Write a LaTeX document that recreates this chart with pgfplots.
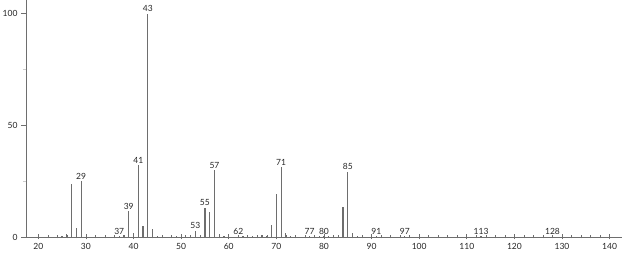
\documentclass[border=0pt]{standalone}
\usepackage{fontspec}
\setmainfont{Lato}
\usepackage{pgfplots}
\pgfplotsset{compat=1.18}
\definecolor{barc}{RGB}{110,110,110}
\definecolor{axc}{RGB}{110,110,110}
\begin{document}
\begin{tikzpicture}[font=\fontsize{8.5}{10}\selectfont]
\useasboundingbox (-26pt,-17pt) rectangle (597pt,237pt);
\begin{axis}[
  at={(0,0)}, anchor=south west,
  scale only axis, width=596pt, height=237pt,
  xmin=17.42, xmax=142.6, ymin=0, ymax=106.1,
  axis x line*=bottom, axis y line*=left,
  axis line style={draw=axc, line width=0.8pt, -},
  xtick={20,30,...,140}, minor x tick num=4,
  ytick={0,50,100}, minor ytick={25,75},
  xtick align=center, ytick align=outside,
  major tick length=5pt, minor tick length=3pt,
  tick style={draw=axc, line width=0.6pt},
  minor y tick style={draw=gray!40},
  /pgf/number format/assume math mode=true,
  ticklabel style={text=black!85},
  xticklabel style={yshift=-0.5pt},
  clip=false,
]
\addplot[ycomb, draw=barc, line width=1.2pt, mark=none] coordinates {
(25,0.4) (26,1.3) (27,23.9) (28,4.0) (29,25.1)
(37,0.4) (38,0.8) (39,11.6) (40,1.9) (41,32.2) (42,4.8) (43,100) (44,3.6) (45,0.5)
(49,0.5) (50,0.4) (51,0.9) (52,0.4) (53,2.8) (54,1.0) (55,13.1) (56,11.0) (57,30.0) (58,1.2) (59,0.3)
(62,0.3) (63,0.3) (65,0.3) (67,0.9) (68,0.4) (69,5.2) (70,19.4) (71,31.2) (72,1.8) (73,0.4)
(77,0.3) (79,0.3) (80,0.3) (81,0.3) (83,0.9) (84,13.4) (85,29.3) (86,1.8) (87,0.3)
(91,0.3) (97,0.3) (113,0.3) (128,0.3)
};
\addplot[draw=none, mark=none, point meta=explicit symbolic,
  nodes near coords,
  nodes near coords style={anchor=south, inner sep=1pt, yshift=0.5pt, font=\fontsize{8.5}{10}\selectfont, text=black!85}]
coordinates {
(29,25.1)[29] (37,0.4)[37] (39,11.6)[39] (41,32.2)[41] (43,100)[43]
(53,2.8)[53] (55,13.1)[55] (57,30.0)[57] (62,0.3)[62] (71,31.2)[71]
(77,0.3)[77] (80,0.3)[80] (85,29.3)[85] (91,0.3)[91] (97,0.3)[97]
(113,0.3)[113] (128,0.3)[128]
};
\end{axis}
\end{tikzpicture}
\end{document}
